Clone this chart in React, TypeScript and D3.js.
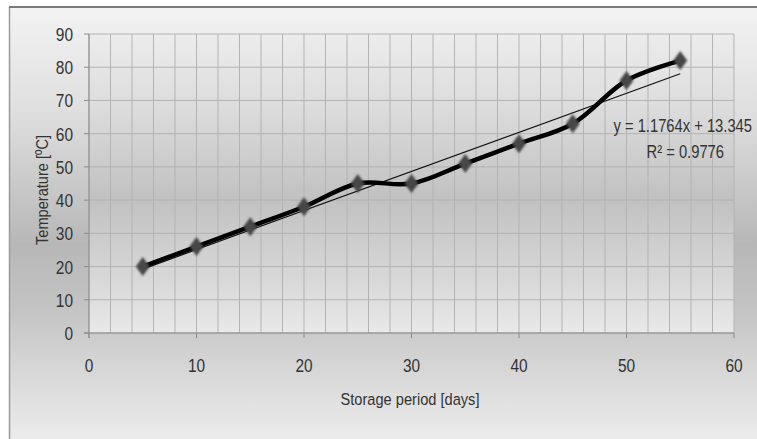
import React from "react";
import * as d3 from "d3";

const days = [5, 10, 15, 20, 25, 30, 35, 40, 45, 50, 55];
const temperature = [20, 26, 32, 38, 45, 45, 51, 57, 63, 76, 82];
const xTicks = [0, 10, 20, 30, 40, 50, 60];
const yTicks = [0, 10, 20, 30, 40, 50, 60, 70, 80, 90];
const xGrid = d3.range(0, 61, 2);
const trendSlope = 1.1764;
const trendIntercept = 13.345;
const equationLabel = "y = 1.1764x + 13.345";
const r2Label = "R² = 0.9776";
const xTitle = "Storage period [days]";
const yTitle = "Temperature [ºC]";

const W = 757;
const H = 439;
const FONT = "'Liberation Sans', Arial, sans-serif";
const SX = 0.86;

function NText(props: {
  x: number;
  y: number;
  anchor?: string;
  size?: number;
  rotate?: number;
  sx?: number;
  children: React.ReactNode;
}) {
  const { x, y, anchor = "start", size = 18, rotate = 0, sx = SX, children } = props;
  return (
    <text
      transform={`translate(${x},${y}) rotate(${rotate}) scale(${sx},1)`}
      textAnchor={anchor}
      fontFamily={FONT}
      fontSize={size}
      fill="#333"
    >
      {children}
    </text>
  );
}

export default function App() {
  const x = d3.scaleLinear().domain([0, 60]).range([89, 734]);
  const y = d3.scaleLinear().domain([0, 90]).range([333, 34]);
  const pts = days.map((d, i) => [x(d), y(temperature[i])] as [number, number]);
  const line = d3.line().curve(d3.curveCatmullRom.alpha(0.5))(pts) || "";
  const tl = [5, 55].map((d) => [x(d), y(trendSlope * d + trendIntercept)]);

  return (
    <svg
      width={W}
      height={H}
      style={{ position: "absolute", left: 0, top: 0, display: "block" }}
    >
      <defs>
        <linearGradient id="bg" x1="0" y1="7" x2="0" y2={H} gradientUnits="userSpaceOnUse">
          <stop offset="0" stopColor="#f3f3f3" />
          <stop offset="0.25" stopColor="#dedede" />
          <stop offset="0.55" stopColor="#b7b7b7" />
          <stop offset="0.7" stopColor="#c4c4c4" />
          <stop offset="1" stopColor="#ececec" />
        </linearGradient>
        <linearGradient id="pa" x1="0" y1="34" x2="0" y2="333" gradientUnits="userSpaceOnUse">
          <stop offset="0" stopColor="#ececec" />
          <stop offset="0.25" stopColor="#dcdcdc" />
          <stop offset="0.55" stopColor="#c1c1c1" />
          <stop offset="0.8" stopColor="#d6d6d6" />
          <stop offset="1" stopColor="#e9e9e9" />
        </linearGradient>
        <filter id="blur" x="-50%" y="-50%" width="200%" height="200%">
          <feGaussianBlur stdDeviation="1" />
        </filter>
      </defs>
      <rect x={0} y={0} width={W} height={H} fill="#ffffff" />
      <rect x={10} y={7} width={W - 10} height={H - 7} fill="url(#bg)" />
      <line x1={9.5} y1={7} x2={9.5} y2={H} stroke="#9a9a9a" strokeWidth={1.5} />
      <line x1={9} y1={7} x2={W} y2={7} stroke="#7a7a7a" strokeWidth={2} />

      {/* plot area */}
      <rect x={x(0)} y={y(90)} width={x(60) - x(0)} height={y(0) - y(90)} fill="url(#pa)" />

      {/* grid */}
      {xGrid.map((g) => (
        <line key={"gx" + g} x1={x(g)} x2={x(g)} y1={y(90)} y2={y(0)} stroke="#b3b3b3" strokeWidth={1} />
      ))}
      {yTicks.map((t) => (
        <line key={"gy" + t} x1={x(0)} x2={x(60)} y1={y(t)} y2={y(t)} stroke="#b3b3b3" strokeWidth={1} />
      ))}

      {/* axes */}
      <line x1={x(0)} x2={x(0)} y1={y(90)} y2={y(0) + 5} stroke="#8a8a8a" strokeWidth={1} />
      <line x1={x(0) - 5} x2={x(60)} y1={y(0)} y2={y(0)} stroke="#8a8a8a" strokeWidth={1} />
      {yTicks.map((t) => (
        <g key={"yt" + t}>
          <line x1={x(0) - 5} x2={x(0)} y1={y(t)} y2={y(t)} stroke="#8a8a8a" />
          <NText x={x(0) - 16} y={y(t) + 7} anchor="end">
            {t}
          </NText>
        </g>
      ))}
      {xTicks.map((t) => (
        <g key={"xt" + t}>
          <line x1={x(t)} x2={x(t)} y1={y(0)} y2={y(0) + 5} stroke="#8a8a8a" />
          <NText x={x(t)} y={y(0) + 39} anchor="middle">
            {t}
          </NText>
        </g>
      ))}

      {/* titles */}
      <NText x={410} y={405} anchor="middle" size={17}>
        {xTitle}
      </NText>
      <NText x={48} y={190} anchor="middle" size={17} rotate={-90}>
        {yTitle}
      </NText>

      {/* trendline */}
      <line x1={tl[0][0]} y1={tl[0][1]} x2={tl[1][0]} y2={tl[1][1]} stroke="#111" strokeWidth={1.2} />

      {/* series */}
      <path d={line} fill="none" stroke="#000" strokeWidth={4.5} strokeLinejoin="round" />
      {pts.map(([px, py], i) => (
        <polygon
          key={"m" + i}
          points={`${px},${py - 9.5} ${px + 7},${py} ${px},${py + 9.5} ${px - 7},${py}`}
          fill="#474747"
          filter="url(#blur)"
        />
      ))}

      {/* equation */}
      <NText x={752} y={132} anchor="end" size={18} sx={0.82}>
        {equationLabel}
      </NText>
      <NText x={724} y={158} anchor="end" size={18} sx={0.82}>
        {r2Label}
      </NText>
    </svg>
  );
}
